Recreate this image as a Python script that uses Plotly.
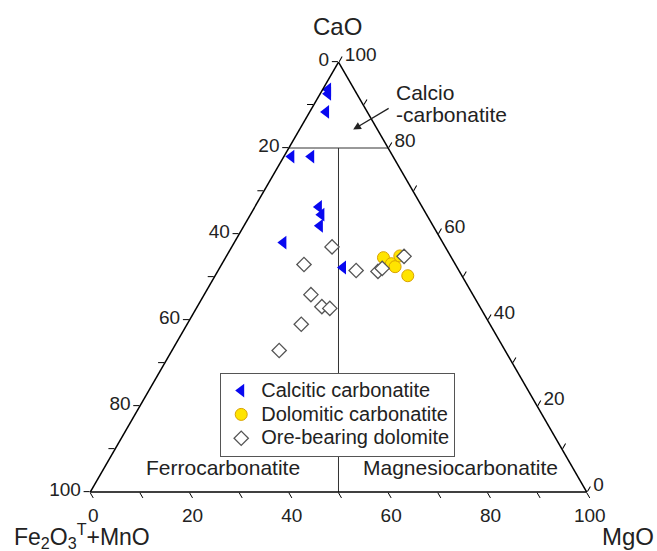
import plotly.graph_objects as go

# Ternary values (CaO, Fe2O3T+MnO, MgO)
calc_cao = [93.6, 92.6, 88.4, 78.0, 78.0, 66.3, 64.5, 61.9, 58.0, 52.2]
calc_fe = [5.3, 5.8, 8.3, 20.5, 16.5, 20.8, 21.2, 22.8, 32.1, 23.0]
calc_mg = [1.1, 1.6, 3.3, 1.5, 5.5, 12.9, 14.3, 15.3, 9.9, 24.8]

dol_cao = [54.5, 53.1, 52.4, 54.9, 50.3]
dol_fe = [13.7, 12.8, 12.4, 10.2, 10.9]
dol_mg = [31.8, 34.1, 35.2, 34.9, 38.8]

ore_cao = [57.0, 52.9, 51.5, 51.3, 52.0, 54.8, 45.9, 43.1, 42.7, 39.0, 32.9]
ore_fe = [22.8, 30.5, 20.7, 16.4, 15.2, 9.4, 32.6, 31.8, 30.4, 38.0, 45.5]
ore_mg = [20.2, 16.6, 27.8, 32.3, 32.8, 35.8, 21.5, 25.1, 26.9, 23.0, 21.6]

# Field boundaries
hline_cao = [80, 80]
hline_fe = [20, 0]
hline_mg = [0, 20]
vline_cao = [80, 0]
vline_fe = [10, 50]
vline_mg = [10, 50]

series_names = ["Calcitic carbonatite", "Dolomitic carbonatite", "Ore-bearing dolomite"]

tick_vals = [0, 10, 20, 30, 40, 50, 60, 70, 80, 90, 100]
tick_down = ["100", "", "80", "", "60", "", "40", "", "20", "", "0"]

FONT = "Liberation Sans, Arial, sans-serif"
TXT = "#222222"


def legend_name(s):
    return "<span style='font-size:20px'>" + s + "</span>"


fig = go.Figure()

fig.add_trace(go.Scatterternary(a=hline_cao, b=hline_fe, c=hline_mg, mode="lines",
                                line=dict(color="#333333", width=1), showlegend=False,
                                hoverinfo="skip"))
fig.add_trace(go.Scatterternary(a=vline_cao, b=vline_fe, c=vline_mg, mode="lines",
                                line=dict(color="#333333", width=1), showlegend=False,
                                hoverinfo="skip"))

fig.add_trace(go.Scatterternary(a=calc_cao, b=calc_fe, c=calc_mg, mode="markers",
                                name=legend_name(series_names[0]),
                                marker=dict(symbol="triangle-left", size=12, color="#0808F0",
                                            line=dict(width=0))))
fig.add_trace(go.Scatterternary(a=dol_cao, b=dol_fe, c=dol_mg, mode="markers",
                                name=legend_name(series_names[1]),
                                marker=dict(symbol="circle", size=12, color="#FFE400",
                                            line=dict(width=1, color="#D9A200"))))
fig.add_trace(go.Scatterternary(a=ore_cao, b=ore_fe, c=ore_mg, mode="markers",
                                name=legend_name(series_names[2]),
                                marker=dict(symbol="diamond", size=11, color="white",
                                            line=dict(width=1.3, color="#555555"))))

axis_common = dict(showgrid=False, linecolor="black", linewidth=1.5, ticks="outside",
                   ticklen=6, tickcolor="black", tickwidth=1.3, tickvals=tick_vals,
                   ticktext=tick_down,
                   tickfont=dict(family=FONT, size=19, color=TXT), title=dict(text=""))

fig.update_layout(
    width=657, height=551,
    margin=dict(l=90, r=70, t=62, b=59),
    paper_bgcolor="white",
    font=dict(family=FONT, color=TXT),
    ternary=dict(
        sum=100,
        bgcolor="white",
        aaxis=axis_common,
        baxis=axis_common,
        caxis=axis_common,
    ),
    legend=dict(x=0.262, y=0.2774, xanchor="left", yanchor="top",
                bgcolor="white", bordercolor="#555555", borderwidth=1,
                font=dict(family=FONT, size=16, color=TXT),
                tracegroupgap=0, itemwidth=30),
    showlegend=True,
)

ann_font = dict(family=FONT, size=21, color=TXT)
title_font = dict(family=FONT, size=24, color=TXT)
common = dict(xref="paper", yref="paper", showarrow=False, yanchor="middle")
fig.add_annotation(text="CaO", x=0.497, y=1.083, xanchor="center", font=title_font, **common)
fig.add_annotation(text="Fe<sub>2</sub>O<sub>3</sub><sup>T</sup>+MnO", x=-0.016, y=-0.102,
                   xanchor="center", font=dict(family=FONT, size=23, color=TXT), **common)
fig.add_annotation(text="MgO", x=1.082, y=-0.104, xanchor="center", font=title_font, **common)
fig.add_annotation(text="Ferrocarbonatite", x=0.2668, y=0.056, xanchor="center",
                   font=ann_font, **common)
fig.add_annotation(text="Magnesiocarbonatite", x=0.745, y=0.056, xanchor="center",
                   font=ann_font, **common)
fig.add_annotation(text="Calcio", x=0.612, y=0.928, xanchor="left", font=ann_font, **common)
fig.add_annotation(text="-carbonatite", x=0.612, y=0.877, xanchor="left", font=ann_font,
                   **common)
fig.add_annotation(text="", x=0.5295, y=0.843, xref="paper", yref="paper",
                   ax=37, ay=-22, showarrow=True, arrowhead=2, arrowsize=1.2,
                   arrowwidth=1.3, arrowcolor=TXT)

fig.write_html("out.html")
